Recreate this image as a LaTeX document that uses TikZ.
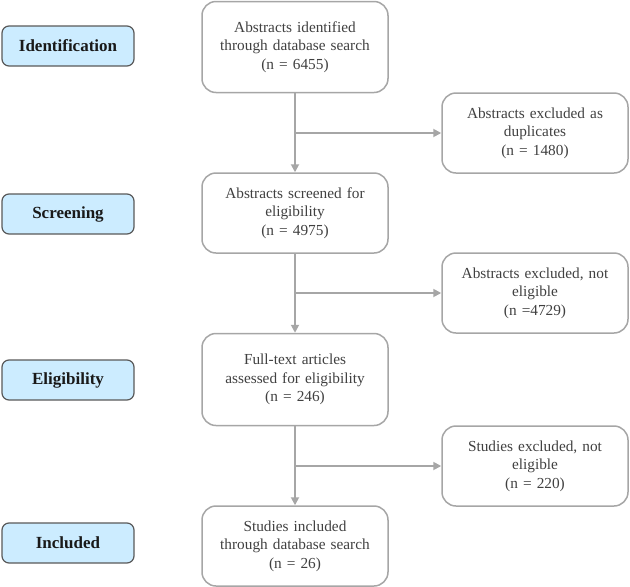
\documentclass[tikz,border=0pt]{standalone}
\usepackage{fontspec}
\setmainfont{Liberation Serif}
\usetikzlibrary{arrows.meta}
\definecolor{boxline}{HTML}{A6A6A6}
\definecolor{arrowc}{HTML}{A6A6A6}
\definecolor{txt}{HTML}{404040}
\definecolor{stagefill}{HTML}{CCECFF}
\definecolor{stageline}{HTML}{595959}
\begin{document}
\begin{tikzpicture}[x=1pt,y=1pt,
  mainbox/.style={draw=boxline, line width=1.5pt, rounded corners=14pt, fill=white,
    minimum width=186pt, text width=180pt, align=center, text=txt,
    font=\fontsize{15.3}{18.6}\selectfont, inner sep=0pt},
  stagebox/.style={draw=stageline, line width=1.2pt, rounded corners=7pt, fill=stagefill,
    minimum width=132pt, minimum height=40pt, align=center, text=black!90,
    font=\fontsize{17}{19}\selectfont\bfseries},
  flow/.style={draw=arrowc, line width=1.8pt, -{Triangle[length=8pt,width=8pt]}}
]
\useasboundingbox (0,0) rectangle (630,-587);

% stage labels
\node[stagebox] (s1) at (68,-46) {Identification};
\node[stagebox] (s2) at (68,-214) {Screening};
\node[stagebox] (s3) at (68,-380) {Eligibility};
\node[stagebox] (s4) at (68,-543) {Included};

% main flow
\node[mainbox, minimum height=91pt] (m1) at (295,-47) {Abstracts identified\\through database search\\(n = 6455)};
\node[mainbox, minimum height=80pt] (m2) at (295,-213) {Abstracts screened for\\eligibility\\(n = 4975)};
\node[mainbox, minimum height=92pt] (m3) at (295,-379.5) {Full-text articles\\assessed for eligibility\\(n = 246)};
\node[mainbox, minimum height=80pt] (m4) at (295,-546) {Studies included\\through database search\\(n = 26)};

% exclusions
\node[mainbox, minimum height=80pt] (r1) at (535,-133) {Abstracts excluded as\\duplicates\\(n = 1480)};
\node[mainbox, minimum height=80pt] (r2) at (535,-293) {Abstracts excluded, not\\eligible\\(n =4729)};
\node[mainbox, minimum height=80pt] (r3) at (535,-466) {Studies excluded, not\\eligible\\(n = 220)};

% connectors
\draw[flow] (m1.south) -- (m2.north);
\draw[flow] (m2.south) -- (m3.north);
\draw[flow] (m3.south) -- (m4.north);
\draw[flow] (m1.south |- r1.west) -- (r1.west);
\draw[flow] (m2.south |- r2.west) -- (r2.west);
\draw[flow] (m3.south |- r3.west) -- (r3.west);
\end{tikzpicture}
\end{document}
